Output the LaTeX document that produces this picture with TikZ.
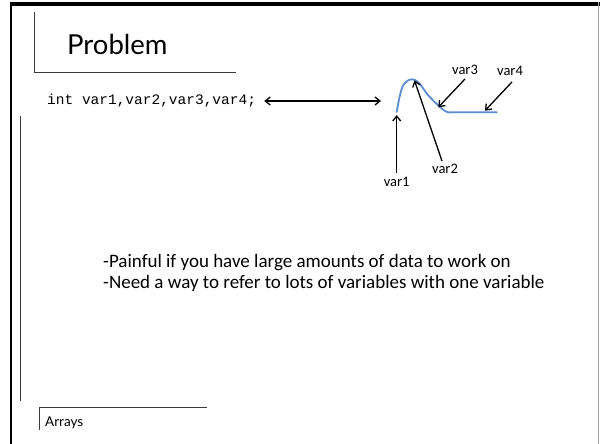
\documentclass[tikz,border=0pt]{standalone}
\usepackage{fontspec}
\setmainfont{Carlito}
\newfontfamily\titlefont{Lato}
\newfontfamily\codefont{Liberation Mono}
\usetikzlibrary{arrows.meta}
\definecolor{curveblue}{HTML}{5B8CCF}
\definecolor{framegray}{HTML}{3A3A3A}
\tikzset{
  frameline/.style={draw=framegray, line width=0.9pt},
  ptr/.style={draw=black, line width=1.3pt, -{Straight Barb[length=5pt,width=8pt]}},
  dptr/.style={draw=black, line width=1.3pt, {Straight Barb[length=5pt,width=8pt]}-{Straight Barb[length=5pt,width=8pt]}},
  varlabel/.style={font=\fontsize{14.5}{16}\selectfont, inner sep=0pt},
}
\begin{document}
\begin{tikzpicture}[x=1pt,y=-1pt]
\useasboundingbox (0,0) rectangle (600,444);
\fill[white] (0,0) rectangle (600,444);
% slide frame
\fill[black] (9.5,2) rectangle (600,6);
\fill[black] (9.5,2) rectangle (11.5,444);
\fill[black!35] (597.5,2) rectangle (599,444);
% title bracket
\draw[frameline] (34,12) -- (34,72) -- (236,72);
\node[anchor=base west, inner sep=0pt, font=\titlefont\fontsize{27.5}{30}\selectfont] (title) at (67,55) {Problem};
% inner left line
\draw[frameline] (20,116) -- (20,401);
% footer bracket
\draw[frameline] (39,430) -- (39,407) -- (207,407);
\node[anchor=base west, inner sep=0pt, font=\titlefont\fontsize{13.5}{15}\selectfont] (footer) at (45,426) {Arrays};
% code line
\node[anchor=west, inner sep=0pt, font=\codefont\fontsize{14.5}{16}\selectfont] (code) at (47,101) {int var1,var2,var3,var4;};
% curve
\draw[curveblue, line width=1.8pt, line cap=round, line join=round]
  plot[smooth, tension=0.6] coordinates {(396.7,112) (400,95) (404,84) (411.7,79.3) (419,83) (428,95) (440,107) (447,112) (452,112.3)}
  -- (496.7,112.3);
\coordinate (curve) at (381,101);
\coordinate (t1) at (396.7,115);
\coordinate (t2) at (414.5,80.5);
\coordinate (t3) at (438.3,107.3);
\coordinate (t4) at (485,110.7);
\draw[dptr] ([xshift=8pt]code.east) -- (curve);
% labels
\node[varlabel] (v1) at (396.7,182) {var1};
\node[varlabel] (v2) at (445,169) {var2};
\node[varlabel] (v3) at (465,70) {var3};
\node[varlabel] (v4) at (510,71) {var4};
\draw[ptr] ([yshift=4pt]v1.north) -- (t1);
\draw[ptr] ([xshift=-3pt,yshift=3pt]v2.north) -- (t2);
\draw[ptr] ([yshift=-4pt]v3.south) -- (t3);
\draw[ptr] ([xshift=2pt,yshift=-6pt]v4.south) -- (t4);
% body text
\node[anchor=base west, inner sep=0pt, align=left, font=\fontsize{19}{21}\selectfont] (body) at (103,288)
  {-Painful if you have large amounts of data to work on\\-Need a way to refer to lots of variables with one variable};
\end{tikzpicture}
\end{document}
